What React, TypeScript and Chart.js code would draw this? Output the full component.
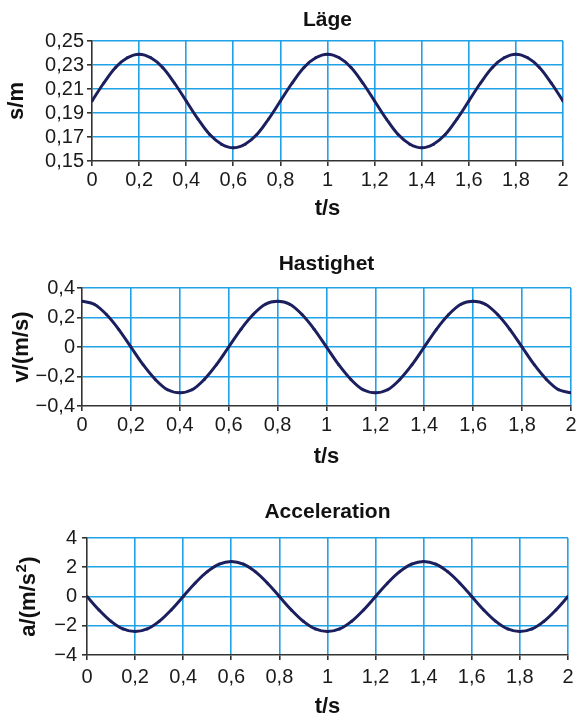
import React, { useEffect, useRef } from "react";
import { Chart, registerables } from "chart.js";

Chart.register(...registerables);

// ---------- data ----------
const timeValues = [
  0, 0.05, 0.1, 0.15, 0.2, 0.25, 0.3, 0.35, 0.4, 0.45, 0.5, 0.55, 0.6, 0.65, 0.7, 0.75,
  0.8, 0.85, 0.9, 0.95, 1, 1.05, 1.1, 1.15, 1.2, 1.25, 1.3, 1.35, 1.4, 1.45, 1.5, 1.55,
  1.6, 1.65, 1.7, 1.75, 1.8, 1.85, 1.9, 1.95, 2,
];

const positionValues = [
  0.2, 0.215, 0.228, 0.236, 0.239, 0.236, 0.228, 0.215, 0.2, 0.185, 0.172, 0.164, 0.161, 0.164, 0.172, 0.185,
  0.2, 0.215, 0.228, 0.236, 0.239, 0.236, 0.228, 0.215, 0.2, 0.185, 0.172, 0.164, 0.161, 0.164, 0.172, 0.185,
  0.2, 0.215, 0.228, 0.236, 0.239, 0.236, 0.228, 0.215, 0.2,
];

const velocityValues = [
  0.31, 0.29, 0.22, 0.12, 0, -0.12, -0.22, -0.29, -0.31, -0.29, -0.22, -0.12, 0, 0.12, 0.22, 0.29,
  0.31, 0.29, 0.22, 0.12, 0, -0.12, -0.22, -0.29, -0.31, -0.29, -0.22, -0.12, 0, 0.12, 0.22, 0.29,
  0.31, 0.29, 0.22, 0.12, 0, -0.12, -0.22, -0.29, -0.31,
];

const accelerationValues = [
  0, -0.92, -1.7, -2.22, -2.4, -2.22, -1.7, -0.92, 0, 0.92, 1.7, 2.22, 2.4, 2.22, 1.7, 0.92,
  0, -0.92, -1.7, -2.22, -2.4, -2.22, -1.7, -0.92, 0, 0.92, 1.7, 2.22, 2.4, 2.22, 1.7, 0.92,
  0, -0.92, -1.7, -2.22, -2.4, -2.22, -1.7, -0.92, 0,
];

const timeTicks = [0, 0.2, 0.4, 0.6, 0.8, 1, 1.2, 1.4, 1.6, 1.8, 2];
const positionTicks = [0.15, 0.17, 0.19, 0.21, 0.23, 0.25];
const velocityTicks = [-0.4, -0.2, 0, 0.2, 0.4];
const accelerationTicks = [-4, -2, 0, 2, 4];

const chartTitles = ["Läge", "Hastighet", "Acceleration"];
// y titles: [main text, superscript, closing text]
const yTitles: [string, string, string][] = [
  ["s/m", "", ""],
  ["v/(m/s)", "", ""],
  ["a/(m/s", "2", ")"],
];
const xTitle = "t/s";

// ---------- styling ----------
const FONT = "'Liberation Sans', Arial, Helvetica, sans-serif";
const GRID = "#1fa2e6";
const AXIS = "#333333";
const LINE = "#1c1f5e";
const TEXT = "#1a1a1a";

const fmt = (v: number) =>
  Number(Number(v).toFixed(2)).toString().replace(".", ",").replace("-", "\u2212");

type PanelCfg = {
  top: number;
  height: number;
  title: string;
  titleTop: number;
  titleBottom: number;
  yTitle: [string, string, string];
  yTitleX: number;
  yWidth: number;
  yTickPad: number;
  rightPad: number;
  xHeight: number;
  xTickPad: number;
  xTitleBottom: number;
  values: number[];
  yTicks: number[];
};

const panels: PanelCfg[] = [
  {
    top: 0, height: 230, title: chartTitles[0], titleTop: 7.4, titleBottom: 8.4,
    yTitle: yTitles[0], yTitleX: 17, yWidth: 92, yTickPad: 3, rightPad: 16,
    xHeight: 69, xTickPad: 2.5, xTitleBottom: 7.4, values: positionValues, yTicks: positionTicks,
  },
  {
    top: 230, height: 240, title: chartTitles[1], titleTop: 21.9, titleBottom: 10.9,
    yTitle: yTitles[1], yTitleX: 22, yWidth: 82, yTickPad: 2, rightPad: 5,
    xHeight: 64, xTickPad: 2.5, xTitleBottom: 0, values: velocityValues, yTicks: velocityTicks,
  },
  {
    top: 470, height: 255, title: chartTitles[2], titleTop: 29.4, titleBottom: 13.4,
    yTitle: yTitles[2], yTitleX: 29, yWidth: 87, yTickPad: 5, rightPad: 2,
    xHeight: 70, xTickPad: 5.5, xTitleBottom: 4.4, values: accelerationValues, yTicks: accelerationTicks,
  },
];

// Draws the rotated y-axis title, with an optional superscript part
const yTitlePlugin = {
  id: "yTitleRich",
  afterDraw(chart: any, _args: any, opts: any) {
    const [main, sup, tail] = opts.parts as [string, string, string];
    const ctx = chart.ctx as CanvasRenderingContext2D;
    const area = chart.chartArea;
    const cx = opts.x;
    const cy = (area.top + area.bottom) / 2;
    const mainFont = `bold 22px ${FONT}`;
    const supFont = `bold 15px ${FONT}`;
    ctx.save();
    ctx.fillStyle = "#111";
    ctx.textBaseline = "middle";
    ctx.textAlign = "left";
    ctx.font = mainFont;
    const wMain = ctx.measureText(main).width;
    const wTail = tail ? ctx.measureText(tail).width : 0;
    ctx.font = supFont;
    const wSup = sup ? ctx.measureText(sup).width + 1 : 0;
    const total = wMain + wSup + wTail;
    ctx.translate(cx, cy);
    ctx.rotate(-Math.PI / 2);
    let x = -total / 2;
    ctx.font = mainFont;
    ctx.fillText(main, x, 0);
    x += wMain;
    if (sup) {
      ctx.font = supFont;
      ctx.fillText(sup, x + 0.5, -7);
      x += wSup;
    }
    if (tail) {
      ctx.font = mainFont;
      ctx.fillText(tail, x, 0);
    }
    ctx.restore();
  },
};

function Panel({ cfg }: { cfg: PanelCfg }) {
  const ref = useRef<HTMLCanvasElement>(null);

  useEffect(() => {
    const canvas = ref.current;
    if (!canvas) return;
    const gridColor = (ctx: any) => (ctx.index === 0 ? "rgba(0,0,0,0)" : GRID);
    const chart = new Chart(canvas, {
      type: "line",
      data: {
        datasets: [
          {
            data: timeValues.map((t, i) => ({ x: t, y: cfg.values[i] })),
            borderColor: LINE,
            backgroundColor: LINE,
            borderWidth: 3,
            pointRadius: 1.5,
            pointBorderWidth: 0,
            pointBackgroundColor: LINE,
            tension: 0.35,
            fill: false,
          },
        ],
      },
      plugins: [yTitlePlugin],
      options: {
        responsive: false,
        animation: false,
        devicePixelRatio: 1,
        layout: {
          autoPadding: false,
          padding: { left: 0, top: 0, right: cfg.rightPad, bottom: 0 },
        },
        plugins: {
          legend: { display: false },
          tooltip: { enabled: false },
          yTitleRich: { parts: cfg.yTitle, x: cfg.yTitleX },
          title: {
            display: true,
            text: cfg.title,
            fullSize: false,
            color: "#111",
            font: { family: FONT, size: 21, weight: "bold" },
            padding: { top: cfg.titleTop, bottom: cfg.titleBottom },
          },
        },
        scales: {
          x: {
            type: "linear",
            min: 0,
            max: 2,
            afterBuildTicks: (s: any) => {
              s.ticks = timeTicks.map((v) => ({ value: v }));
            },
            afterFit: (s: any) => {
              s.height = cfg.xHeight;
            },
            grid: { color: gridColor, lineWidth: 1.6, tickColor: AXIS, tickLength: 5, drawTicks: true },
            border: { color: AXIS, width: 1.6 },
            ticks: {
              color: TEXT,
              font: { family: FONT, size: 20 },
              padding: cfg.xTickPad,
              maxRotation: 0,
              autoSkip: false,
              callback: (v: any) => fmt(v),
            },
            title: {
              display: true,
              text: xTitle,
              color: "#111",
              font: { family: FONT, size: 22, weight: "bold" },
              padding: { top: 0, bottom: cfg.xTitleBottom },
            },
          },
          y: {
            type: "linear",
            min: cfg.yTicks[0],
            max: cfg.yTicks[cfg.yTicks.length - 1],
            afterBuildTicks: (s: any) => {
              s.ticks = cfg.yTicks.map((v) => ({ value: v }));
            },
            afterFit: (s: any) => {
              s.width = cfg.yWidth;
            },
            grid: { color: gridColor, lineWidth: 1.6, tickColor: AXIS, tickLength: 5, drawTicks: true },
            border: { color: AXIS, width: 1.6 },
            ticks: {
              color: TEXT,
              font: { family: FONT, size: 20 },
              padding: cfg.yTickPad,
              autoSkip: false,
              callback: (v: any) => fmt(v),
            },
            title: { display: false },
          },
        },
      } as any,
    });
    return () => chart.destroy();
  }, [cfg]);

  return (
    <canvas
      ref={ref}
      width={579}
      height={cfg.height}
      style={{ position: "absolute", left: 0, top: cfg.top, width: 579, height: cfg.height }}
    />
  );
}

export default function App() {
  return (
    <div
      style={{
        position: "fixed",
        left: 0,
        top: 0,
        width: 579,
        height: 715,
        overflow: "hidden",
        background: "#ffffff",
      }}
    >
      {panels.map((p, i) => (
        <Panel key={i} cfg={p} />
      ))}
    </div>
  );
}
